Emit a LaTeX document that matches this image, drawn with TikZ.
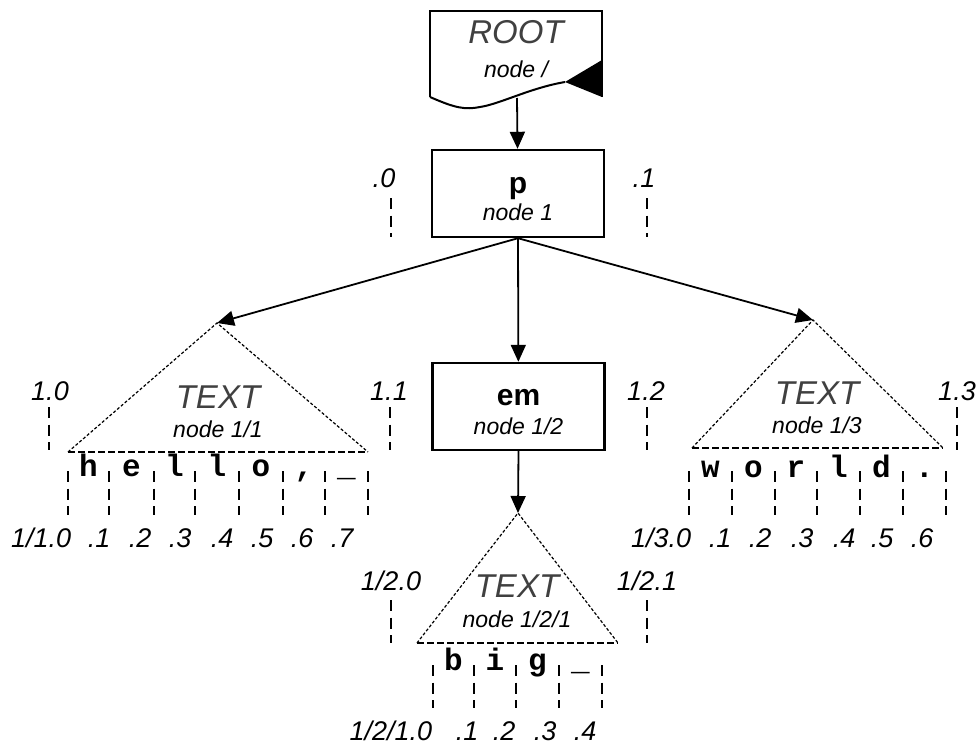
\documentclass[tikz,border=0pt]{standalone}
\usepackage{fontspec}
\setmainfont{Liberation Sans}
\setmonofont{Liberation Mono}
\usetikzlibrary{arrows.meta}

\tikzset{
  box/.style={draw,line width=2.4pt,minimum width=172pt,minimum height=87pt,inner sep=0pt},
  kind/.style={font=\fontsize{33}{33}\selectfont\itshape,anchor=base,inner sep=0pt,text=black!75},
  nodeid/.style={font=\fontsize{23}{23}\selectfont\itshape,anchor=base,inner sep=0pt},
  elem/.style={font=\fontsize{30}{30}\selectfont\bfseries,anchor=base,inner sep=0pt},
  offs/.style={font=\fontsize{27}{27}\selectfont\itshape,anchor=base,inner sep=0pt},
  chr/.style={font=\fontsize{31}{31}\selectfont\ttfamily\bfseries,anchor=base,inner sep=0pt},
  posline/.style={line width=1.6pt,dash pattern=on 11pt off 6.5pt},
  tri/.style={line width=1.2pt,dash pattern=on 3pt off 2pt},
  trib/.style={line width=1.2pt,dash pattern=on 7pt off 3pt}
}

\begin{document}
\begin{tikzpicture}[x=1pt,y=-1pt,line width=1.8pt,>={Triangle[length=17pt,width=15pt]}]
  \useasboundingbox (0,0) rectangle (978,744);
  % root
  \draw[line width=2.4pt] (430,97) -- (430,11) -- (602,11) -- (602,97);
  \draw[line width=2pt] (430,97) .. controls (455,108) and (465,110) .. (480,107) .. controls (500,104) and (530,88) .. (565,82);
  \fill (565,82) -- (602,60) -- (602,97) -- cycle;
  \coordinate (root) at (517,98);
  \node[kind] (roottag) at (516,43) {ROOT};
  \node[nodeid] (rootid) at (516,77) {node /};
  % p
  \node[box] (p) at (518,193.5) {};
  \node[elem] (ptag) at (518,193) {p};
  \node[nodeid] (pid) at (518,220) {node 1};
  \node[offs] (p0) at (384,187) {.0};
  \node[offs] (p1) at (644,187) {.1};
  \draw[posline] (391,198) -- (391,237);
  \draw[posline] (647,198) -- (647,237);
  \draw[->] (root) -- (p);
  % em
  \node[box] (em) at (518.5,406.5) {};
  \node[elem] (emtag) at (518.5,405) {em};
  \node[nodeid] (emid) at (518.5,434) {node 1/2};
  % triangles
  \coordinate (t1) at (217,323);
  \coordinate (t2) at (518,513);
  \coordinate (t3) at (813,320);
  \draw[->] (p.south) -- (t1);
  \draw[->] (p.south) -- (em);
  \draw[->] (p.south) -- (t3);
  \draw[->] (em.south) -- (t2);
  % text 1/1
  \draw[tri] (68,452) -- (t1) -- (368,452);
  \draw[trib] (68,452) -- (368,452);
  \node[kind] (t1tag) at (218,408) {TEXT};
  \node[nodeid] (t1id) at (218,437) {node 1/1};
  \node[offs] (n10) at (50,400) {1.0};
  \node[offs] (n11) at (389,400) {1.1};
  \draw[posline] (49,407) -- (49,450);
  \draw[posline] (390,407) -- (390,450);
  \foreach \x in {68,109,154,195,239,283,325,368} \draw[posline] (\x,471) -- (\x,515);
  \foreach \c/\x [count=\i] in {h/88.5,e/131.5,l/174.5,l/217,o/261,{,}/304,\_/346.5}
    \node[chr] (hello\i) at (\x,476) {\c};
  \node[offs,anchor=base east] (h0) at (72,547) {1/1.0};
  \foreach \x [count=\i] in {87,128,168,210,250,290,330}
    \node[offs,anchor=base west] (h\i) at (\x,547) {.\i};
  % text 1/3
  \draw[tri] (692,448) -- (t3) -- (943,448);
  \draw[trib] (692,448) -- (943,448);
  \node[kind] (t3tag) at (817,404) {TEXT};
  \node[nodeid] (t3id) at (817,433) {node 1/3};
  \node[offs] (n12) at (646,400) {1.2};
  \node[offs] (n13) at (957,400) {1.3};
  \draw[posline] (647,407) -- (647,450);
  \draw[posline] (957,407) -- (957,450);
  \foreach \x in {689,732,775,817,860,903,946} \draw[posline] (\x,471) -- (\x,515);
  \foreach \c/\x [count=\i] in {w/710.5,o/753.5,r/796,l/838.5,d/881.5,./924.5}
    \node[chr] (world\i) at (\x,477) {\c};
  \node[offs,anchor=base east] (w0) at (692,547) {1/3.0};
  \foreach \x [count=\i] in {708,748,790,832,870,910}
    \node[offs,anchor=base west] (w\i) at (\x,547) {.\i};
  % text 1/2/1
  \draw[tri] (417,643) -- (t2) -- (618,643);
  \draw[trib] (417,643) -- (618,643);
  \node[kind] (t2tag) at (517,597) {TEXT};
  \node[nodeid] (t2id) at (517,627) {node 1/2/1};
  \node[offs] (n20) at (391,590) {1/2.0};
  \node[offs] (n21) at (647,590) {1/2.1};
  \draw[posline] (391,600) -- (391,643);
  \draw[posline] (647,600) -- (647,643);
  \foreach \x in {433,474,516,559,602} \draw[posline] (\x,665) -- (\x,708);
  \foreach \c/\x [count=\i] in {b/453.5,i/495,g/537.5,\_/580.5}
    \node[chr] (big\i) at (\x,670) {\c};
  \node[offs,anchor=base east] (b0) at (433,740) {1/2/1.0};
  \foreach \x [count=\i] in {455,492,533,573}
    \node[offs,anchor=base west] (b\i) at (\x,740) {.\i};
\end{tikzpicture}
\end{document}
